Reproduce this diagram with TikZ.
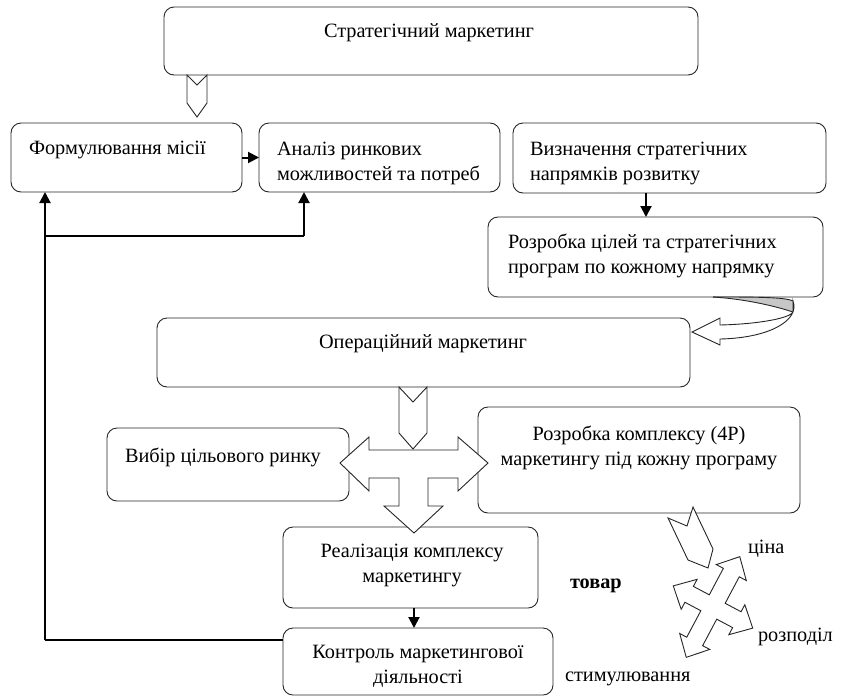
\documentclass[tikz,border=0pt]{standalone}
\usepackage{fontspec}
\setmainfont{Liberation Serif}
\usetikzlibrary{arrows.meta}
\newcommand\tlft[1]{\begin{tabular}[t]{@{}l@{}}#1\end{tabular}}
\newcommand\tctr[1]{\begin{tabular}[t]{@{}c@{}}#1\end{tabular}}
\begin{document}
\begin{tikzpicture}[x=1pt,y=-1pt,
  box/.style={draw=black!85, line width=0.9pt, rounded corners=10pt, inner sep=0pt, outer sep=0pt, fill=white},
  txt/.style={inner sep=0pt, outer sep=0pt, font=\fontsize{20.3}{25}\selectfont},
  arr/.style={line width=2pt, -{Triangle[length=11pt,width=11pt]}},
  fbline/.style={line width=1.1pt},
  fbthick/.style={line width=2pt},
  hollow/.style={draw=black!85, line width=0.9pt, fill=white, line join=miter}]
\useasboundingbox (0,0) rectangle (851,697);

% boxes
\node[box, minimum width=534pt, minimum height=68pt] (s) at (431,41) {};
\node[box, minimum width=231pt, minimum height=69pt] (f) at (126.5,157.5) {};
\node[box, minimum width=241pt, minimum height=69pt] (a) at (379.5,157.5) {};
\node[box, minimum width=313pt, minimum height=70pt] (v) at (669.5,158) {};
\node[box, minimum width=335pt, minimum height=80pt] (r) at (655.5,257) {};
\node[box, minimum width=533pt, minimum height=69pt] (o) at (423.5,352.5) {};
\node[box, minimum width=242pt, minimum height=73pt] (w) at (228,464.5) {};
\node[box, minimum width=322pt, minimum height=106pt] (p) at (639,460) {};
\node[box, minimum width=255pt, minimum height=81pt] (re) at (410.5,567.5) {};
\node[box, minimum width=270pt, minimum height=67pt] (k) at (418,661.5) {};

% texts
\node[txt, anchor=base] (ts) at (429,37) {Стратегічний маркетинг};
\node[txt, anchor=base west] (tf) at (29,154) {Формулювання місії};
\node[txt, anchor=base west] (ta) at (277,155) {\tlft{Аналіз ринкових\\можливостей та потреб}};
\node[txt, anchor=base west] (tv) at (530,155) {\tlft{Визначення стратегічних\\напрямків розвитку}};
\node[txt, anchor=base west] (tr) at (508,248) {\tlft{Розробка цілей та стратегічних\\програм по кожному напрямку}};
\node[txt, anchor=base] (to) at (423,348) {Операційний маркетинг};
\node[txt, anchor=base west] (tw) at (125,462) {Вибір цільового ринку};
\node[txt, anchor=base] (tp) at (639,440) {\tctr{Розробка комплексу (4P)\\маркетингу під кожну програму}};
\node[txt, anchor=base] (tre) at (412,557) {\tctr{Реалізація комплексу\\маркетингу}};
\node[txt, anchor=base] (tk) at (418,658) {\tctr{Контроль маркетингової\\діяльності}};
\node[txt, anchor=base west] (l1) at (748,553) {ціна};
\node[txt, anchor=base west] (l2) at (758,641) {розподіл};
\node[txt, anchor=base west] (l3) at (565,681) {стимулювання};
\node[txt, anchor=base west, font=\fontsize{20.3}{25}\selectfont\bfseries] (l4) at (570,588) {товар};

% simple arrows
\coordinate (x646) at (646,0);
\coordinate (x414) at (414,0);
\draw[arr] (f.east) -- (a.west);
\draw[arr] (v.south -| x646) -- (r.north -| x646);
\draw[arr] (re.south -| x414) -- (k.north -| x414);

% feedback lines
\coordinate (c1) at (45,640);
\coordinate (c2) at (45,236);
\coordinate (c3) at (304,236);
\draw[fbline] (k.west |- c1) -- (c1);
\draw[fbthick, -{Triangle[length=11pt,width=11pt]}] (c1) -- (f.south -| c1);
\draw[fbline] (c2) -- (c3);
\draw[fbthick, -{Triangle[length=11pt,width=11pt]}] (c3) -- (a.south -| c3);

% chevron from strategic marketing
\draw[hollow] (187,75) -- (197,85) -- (207,75) -- (207,103) -- (197,117) -- (187,103) -- cycle;

% curved arrow from r to o
\fill[black!22] (713,297) .. controls (755,297) and (785,297) .. (793,301)
  -- (793,312) .. controls (775,306) and (745,299) .. (713,297) -- cycle;
\draw[draw=black!85, line width=0.9pt] (713,297) .. controls (755,297) and (785,297) .. (793,301);
\draw[draw=black!85, line width=0.9pt] (713,297) .. controls (745,299) and (775,306) .. (793,312);
\draw[hollow] (793,301) .. controls (800,320) and (770,338) .. (720,339)
  -- (720,345) -- (692,332) -- (720,318) -- (720,325)
  .. controls (760,324) and (790,318) .. (793,312) -- cycle;

% operational cross arrow
\draw[hollow] (399,387) -- (413,402) -- (427,387) -- (427,433) -- (413,449) -- (399,433) -- cycle;
\draw[hollow] (340,463) -- (369,437) -- (369,450) -- (458,450) -- (458,437) -- (488,463)
  -- (458,491) -- (458,478) -- (428,478) -- (428,506) -- (443,506) -- (414,533)
  -- (384,506) -- (399,506) -- (399,478) -- (369,478) -- (369,491) -- cycle;

% diagonal chevron from 4P box
\draw[hollow] (668,518) -- (687,526) -- (693,507) -- (713,549) -- (708,568) -- (688,560) -- cycle;

% four-way arrow
\begin{scope}[shift={(713,607)}, rotate=-28]
\draw[hollow] (0,-57) -- (17,-39) -- (9,-39) -- (9,-9) -- (27,-9) -- (27,-17) -- (45,0)
  -- (27,17) -- (27,9) -- (9,9) -- (9,39) -- (17,39) -- (0,57) -- (-17,39) -- (-9,39)
  -- (-9,9) -- (-27,9) -- (-27,17) -- (-45,0) -- (-27,-17) -- (-27,-9) -- (-9,-9)
  -- (-9,-39) -- (-17,-39) -- cycle;
\end{scope}
\end{tikzpicture}
\end{document}
